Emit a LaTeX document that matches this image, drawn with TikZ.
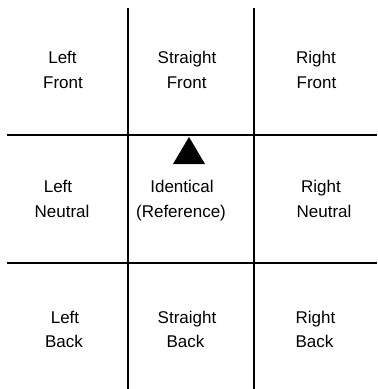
\documentclass[tikz,border=0pt]{standalone}
\usepackage{fontspec}
\setmainfont{Liberation Sans}
\begin{document}
\begin{tikzpicture}[x=1pt,y=-1pt,
  gridline/.style={line width=2pt,black},
  lbl/.style={anchor=base,font=\fontsize{17}{24}\selectfont,inner sep=0pt}]
\useasboundingbox (0,0) rectangle (378,389);
\coordinate (v1t) at (127.5,8);
\coordinate (v1b) at (127.5,389);
\coordinate (v2t) at (254,8);
\coordinate (v2b) at (254,389);
\coordinate (h1l) at (7,135);
\coordinate (h1r) at (377,135);
\coordinate (h2l) at (7,262.5);
\coordinate (h2r) at (377,262.5);
\draw[gridline] (v1t) -- (v1b);
\draw[gridline] (v2t) -- (v2b);
\draw[gridline] (h1l) -- (h1r);
\draw[gridline] (h2l) -- (h2r);
\fill[black] (189,137) -- (205,164) -- (173,164) -- cycle;
% row 1
\node[lbl] (lf1) at (62.5,63) {Left};
\node[lbl] (lf2) at (63,88) {Front};
\node[lbl] (sf1) at (187,63) {Straight};
\node[lbl] (sf2) at (186.7,88) {Front};
\node[lbl] (rf1) at (316,63) {Right};
\node[lbl] (rf2) at (316.5,88) {Front};
% row 2
\node[lbl] (ln1) at (58,192.5) {Left};
\node[lbl] (ln2) at (62,217.5) {Neutral};
\node[lbl] (id1) at (182,192.5) {Identical};
\node[lbl] (id2) at (181,217.5) {(Reference)};
\node[lbl] (rn1) at (321,192.5) {Right};
\node[lbl] (rn2) at (324,217.5) {Neutral};
% row 3
\node[lbl] (lb1) at (65,323.3) {Left};
\node[lbl] (lb2) at (64,347.7) {Back};
\node[lbl] (sb1) at (187,323.3) {Straight};
\node[lbl] (sb2) at (185.5,347.7) {Back};
\node[lbl] (rb1) at (315.5,323.3) {Right};
\node[lbl] (rb2) at (314.5,347.7) {Back};
\end{tikzpicture}
\end{document}
